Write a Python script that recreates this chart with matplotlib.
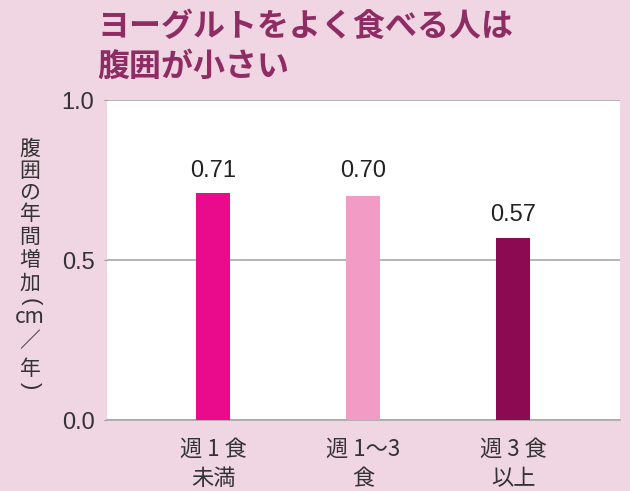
import matplotlib
matplotlib.use("Agg")
import matplotlib.pyplot as plt

plt.rcParams['font.family'] = ['Noto Sans CJK JP', 'DejaVu Sans']

categories = ["週 1 食\n未満", "週 1～3\n食", "週 3 食\n以上"]
values = [0.71, 0.70, 0.57]
value_labels = ["0.71", "0.70", "0.57"]
colors = ["#ea0a8c", "#f29bc4", "#8c0a52"]
yticks = [0.0, 0.5, 1.0]
ytick_labels = ["0.0", "0.5", "1.0"]
title = "ヨーグルトをよく食べる人は\n腹囲が小さい"
ylabel_parts = ["腹", "囲", "の", "年", "間", "増", "加", "(", "cm", "／", "年", ")"]

bg = "#f0d5e3"
title_color = "#8e2c64"
num_font = ['Liberation Sans', 'Noto Sans CJK JP']

fig = plt.figure(figsize=(6.3, 4.91), dpi=100)
fig.patch.set_facecolor(bg)
ax = fig.add_axes([0.1698, 0.1446, 0.8142, 0.6517])
ax.set_facecolor("white")

x = list(range(len(categories)))
ax.bar(x, values, width=0.233, color=colors, zorder=3)
for xi, v, lab in zip(x, values, value_labels):
    ytxt = 0.71 if v > 0.6 else v
    ax.text(xi, ytxt + 0.035, lab, ha="center", va="bottom",
            fontsize=17, color="#222222", family=num_font)

ax.set_xlim(-0.707, 2.713)
ax.set_ylim(0, 1.0)
ax.set_yticks(yticks)
ax.set_yticklabels(ytick_labels, fontsize=17, color="#333333", family=num_font)
ax.set_xticks(x)
ax.set_xticklabels(categories, fontsize=16, color="#333333", linespacing=1.35)
ax.tick_params(axis="y", length=2, color="#999999", pad=7)
ax.tick_params(axis="x", length=0, pad=13)
ax.grid(axis="y", color="#a8a8a8", linewidth=1.2, zorder=1)

for s in ["top", "right", "left"]:
    ax.spines[s].set_visible(False)
ax.spines["bottom"].set_color("#a8a8a8")
ax.spines["bottom"].set_linewidth(1.2)

fig.text(97 / 630, 1 - 11 / 491, title, ha="left", va="top", fontsize=23,
         fontweight="bold", color=title_color, linespacing=1.3)

# vertical y label, one glyph per row; brackets turned to their vertical form
rows_px = [149, 171, 192, 214, 237, 260, 284, 302, 317, 341, 369, 386]
for ch, yp in zip(ylabel_parts, rows_px):
    if ch in "()":
        fig.text(30 / 630, 1 - yp / 491, ch, ha="center", va="center",
                 fontsize=16, color="#333333", rotation=-90, family=num_font)
    else:
        fig.text(30 / 630, 1 - yp / 491, ch, ha="center", va="center",
                 fontsize=15, color="#333333")

fig.savefig("out.png", dpi=100, facecolor=bg)
